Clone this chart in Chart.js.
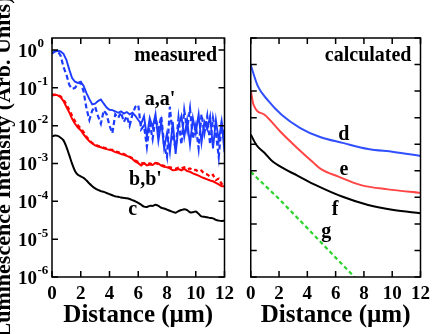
<!DOCTYPE html>
<html>
<head>
<meta charset="utf-8">
<script src="https://cdn.jsdelivr.net/npm/chart.js@4"></script>
<style>
	body { margin: 0; background: #fff; }
	canvas { position: absolute; top: 0; }
	#measuredChart { left: 0; }
	#calculatedChart { left: 240px; }
</style>
</head>
<body>
<canvas id="measuredChart" width="240" height="334"></canvas>
<canvas id="calculatedChart" width="196" height="334"></canvas>
<script>
// Distance (um) for the measured profiles
const measuredX = [
	0, 0.2, 0.4, 0.6, 0.8, 1.0, 1.2, 1.4, 1.6, 1.8,
	2.0, 2.2, 2.4, 2.6, 2.8, 3.0, 3.2, 3.4, 3.6, 3.8,
	4.0, 4.2, 4.4, 4.6, 4.8, 5.0, 5.2, 5.4, 5.6, 5.8,
	6.0, 6.2, 6.4, 6.6, 6.8, 7.0, 7.2, 7.4, 7.6, 7.8,
	8.0, 8.2, 8.4, 8.6, 8.8, 9.0, 9.2, 9.4, 9.6, 9.8,
	10.0, 10.2, 10.4, 10.6, 10.8, 11.0, 11.2, 11.4, 11.6, 11.8,
	12.0,
];

// log10 of the intensity
const aLog = [
	-0.08, -0.04, -0.02, -0.04, -0.10, -0.26, -0.52, -0.74, -0.84, -0.87,
	-0.84, -0.95, -1.14, -1.30, -1.44, -1.42, -1.35, -1.31, -1.42, -1.52,
	-1.58, -1.59, -1.62, -1.66, -1.62, -1.68, -1.64, -1.70, -1.66, -1.74,
	-1.85, -1.95, -1.75, -2.30, -1.80, -2.05, -1.70, -2.40, -1.90, -2.60,
	-2.20, -2.70, -1.90, -2.75, -2.00, -1.75, -2.30, -1.85, -2.50, -1.80,
	-2.20, -1.70, -2.45, -1.90, -2.10, -1.75, -2.60, -1.85, -2.40, -1.90,
	-2.70,
];
const aPrimeLog = [
	-0.10, -0.03, -0.04, -0.15, -0.45, -0.65, -0.92, -1.03, -1.00, -0.90,
	-0.86, -1.10, -1.55, -1.85, -1.60, -1.50, -1.75, -1.95, -1.60, -1.70,
	-2.00, -2.20, -1.70, -1.80, -1.65, -1.90, -1.75, -2.00, -1.70, -1.50,
	-1.45, -2.10, -2.00, -2.56, -1.95, -2.35, -1.80, -2.10, -1.75, -2.50,
	-2.83, -1.50, -2.30, -2.60, -1.80, -2.50, -1.60, -2.10, -1.55, -2.35,
	-2.00, -2.60, -1.70, -2.20, -1.75, -2.50, -1.80, -2.20, -2.83, -1.95,
	-2.30,
];
const bLog = [
	-1.18, -1.18, -1.20, -1.25, -1.35, -1.50, -1.65, -1.82, -1.95, -2.05,
	-2.12, -2.23, -2.33, -2.41, -2.47, -2.52, -2.55, -2.57, -2.60, -2.62,
	-2.64, -2.66, -2.70, -2.72, -2.75, -2.77, -2.80, -2.83, -2.88, -2.95,
	-2.99, -3.05, -2.99, -3.05, -3.03, -3.04, -2.98, -3.00, -3.06, -3.09,
	-3.10, -3.13, -3.18, -3.17, -3.15, -3.18, -3.14, -3.20, -3.22, -3.26,
	-3.29, -3.32, -3.36, -3.39, -3.42, -3.45, -3.47, -3.51, -3.55, -3.60,
	-3.60,
];
const bPrimeLog = [
	-1.20, -1.19, -1.19, -1.23, -1.31, -1.44, -1.58, -1.74, -1.88, -1.99,
	-2.07, -2.17, -2.29, -2.39, -2.46, -2.50, -2.53, -2.55, -2.58, -2.60,
	-2.63, -2.64, -2.68, -2.70, -2.73, -2.75, -2.79, -2.82, -2.86, -2.92,
	-2.96, -2.98, -3.00, -3.02, -3.00, -3.02, -2.99, -3.02, -3.04, -3.06,
	-3.08, -3.10, -3.12, -3.14, -3.11, -3.13, -3.10, -3.15, -3.13, -3.18,
	-3.17, -3.22, -3.19, -3.27, -3.29, -3.35, -3.30, -3.44, -3.40, -3.54,
	-3.50,
];
const cLog = [
	-2.29, -2.26, -2.27, -2.32, -2.39, -2.56, -2.78, -3.01, -3.20, -3.30,
	-3.34, -3.38, -3.45, -3.53, -3.60, -3.66, -3.70, -3.73, -3.75, -3.78,
	-3.81, -3.84, -3.87, -3.88, -3.90, -3.91, -3.92, -3.94, -3.97, -4.00,
	-4.04, -4.09, -4.14, -4.15, -4.12, -4.12, -4.09, -4.12, -4.17, -4.19,
	-4.22, -4.25, -4.28, -4.30, -4.26, -4.23, -4.21, -4.23, -4.29, -4.29,
	-4.27, -4.33, -4.40, -4.41, -4.42, -4.44, -4.45, -4.49, -4.51, -4.52,
	-4.51,
];

// calculated profiles: distance and log10 intensity
const dX = [ 0, 0.5, 1.2, 2.2, 3.5, 4.9, 6.5, 8.3, 10.1, 12 ];
const dLog = [ -1.02, -1.81, -2.34, -2.90, -3.39, -3.73, -3.95, -4.18, -4.29, -4.44 ];
const eX = [ 0, 0.2, 1.0, 2.1, 3.3, 4.4, 5.0, 6.2, 7.8, 9.7, 12 ];
const eLog = [ -1.98, -2.52, -2.90, -3.53, -4.15, -4.68, -4.95, -5.22, -5.54, -5.70, -5.83 ];
const fX = [ 0, 0.4, 1.0, 1.45, 2.35, 3.3, 4.6, 6.5, 8.3, 10.1, 12 ];
const fLog = [ -3.63, -4.03, -4.34, -4.60, -4.92, -5.18, -5.54, -5.98, -6.29, -6.48, -6.60 ];
const gX = [ 0, 2, 4, 6, 7.4 ];
const gLog = [ -5.04, -6.06, -7.16, -8.27, -9.04 ];

// tick values
const measuredTicks = [ 1, 1e-1, 1e-2, 1e-3, 1e-4, 1e-5, 1e-6 ];
const calculatedTicks = [ 1, 1e-1, 1e-2, 1e-3, 1e-4, 1e-5, 1e-6, 1e-7, 1e-8, 1e-9 ];

const SERIF = '"Liberation Serif", "Times New Roman", serif';
Chart.defaults.font.family = SERIF;
Chart.defaults.font.weight = 'bold';
Chart.defaults.color = '#000';

function points( xs, logs ) {
	return xs.map( ( x, i ) => ( { x, y: Math.pow( 10, logs[ i ] ) } ) );
}

// frame with inward ticks, panel labels, superscript tick labels
const framePlugin = {
	id: 'frame',
	afterDatasetsDraw( chart, args, opts ) {
		const { ctx, chartArea: a } = chart;
		const x = chart.scales.x;
		const y = chart.scales.y;
		ctx.save();
		ctx.strokeStyle = '#000';
		ctx.lineWidth = 1.5;
		ctx.strokeRect( a.left, a.top, a.right - a.left, a.bottom - a.top );
		ctx.beginPath();
		x.ticks.forEach( ( t ) => {
			const px = x.getPixelForValue( t.value );
			ctx.moveTo( px, a.bottom );
			ctx.lineTo( px, a.bottom - 6 );
			ctx.moveTo( px, a.top );
			ctx.lineTo( px, a.top + 6 );
		} );
		y.ticks.forEach( ( t ) => {
			const py = y.getPixelForValue( t.value );
			ctx.moveTo( a.left, py );
			ctx.lineTo( a.left + 6, py );
			ctx.moveTo( a.right, py );
			ctx.lineTo( a.right - 6, py );
		} );
		ctx.stroke();

		ctx.fillStyle = '#000';
		ctx.font = 'bold 20px ' + SERIF;
		ctx.textAlign = 'center';
		ctx.textBaseline = 'alphabetic';
		( opts.labels || [] ).forEach( ( l ) => {
			ctx.fillText( l.text, x.getPixelForValue( l.x ), y.getPixelForValue( l.y ) );
		} );

		if ( opts.powers ) {
			y.ticks.forEach( ( t ) => {
				const py = y.getPixelForValue( t.value );
				const exp = Math.round( Math.log10( t.value ) );
				ctx.textBaseline = 'middle';
				ctx.textAlign = 'right';
				ctx.font = 'bold 19px ' + SERIF;
				ctx.fillText( '10', a.left - 15, py + 2 );
				ctx.textAlign = 'left';
				ctx.font = 'bold 13px ' + SERIF;
				ctx.fillText( exp === 0 ? '0' : '-' + Math.abs( exp ), a.left - 14.5, py - 6 );
			} );
		}

		if ( opts.yTitle ) {
			ctx.translate( 9.5, 167 );
			ctx.rotate( -Math.PI / 2 );
			ctx.textAlign = 'center';
			ctx.textBaseline = 'alphabetic';
			ctx.font = 'bold 22px ' + SERIF;
			ctx.fillText( opts.yTitle, 0, 0 );
		}
		ctx.restore();
	},
};

function xScale() {
	return {
		type: 'linear',
		min: 0,
		max: 12,
		grid: { display: false, drawTicks: false },
		border: { display: false },
		ticks: {
			stepSize: 2,
			padding: 6,
			maxRotation: 0,
			color: '#000',
			font: { size: 19, weight: 'bold' },
		},
		title: {
			display: true,
			text: 'Distance (µm)',
			color: '#000',
			font: { size: 25, weight: 'bold' },
			padding: { top: 0, bottom: 3 },
		},
		afterFit( scale ) {
			scale.height = 57;
		},
	};
}

function line( data, color, width, dash, tension ) {
	return {
		data,
		borderColor: color,
		borderWidth: width,
		borderDash: dash || [],
		pointRadius: 0,
		fill: false,
		tension: tension || 0,
	};
}

// Measured panel
new Chart( document.getElementById( 'measuredChart' ), {
	type: 'line',
	data: {
		datasets: [
			line( points( measuredX, cLog ), '#000000', 2, null, 0.3 ),
			line( points( measuredX, bPrimeLog ), '#ff0000', 2.2, [ 4, 3 ] ),
			line( points( measuredX, bLog ), '#ff0000', 2 ),
			line( points( measuredX, aPrimeLog ), '#1e3cff', 2.2, [ 5, 3 ] ),
			line( points( measuredX, aLog ), '#1e3cff', 1.9 ),
		],
	},
	options: {
		responsive: false,
		animation: false,
		layout: { padding: { left: 0, right: 13, top: 38, bottom: 0 } },
		plugins: {
			legend: { display: false },
			tooltip: { enabled: false },
			frame: {
				powers: true,
				yTitle: 'Luminescence Intensity (Arb. Units)',
				labels: [
					{ text: 'measured', x: 8.6, y: 0.5 },
					{ text: "a,a'", x: 7.52, y: 0.0352 },
					{ text: "b,b'", x: 6.5, y: 2.7e-4 },
					{ text: 'c', x: 5.62, y: 4.4e-5 },
				],
			},
		},
		scales: {
			x: xScale(),
			y: {
				type: 'logarithmic',
				min: 1e-6,
				max: 2.07,
				grid: { display: false, drawTicks: false },
				border: { display: false },
				ticks: { display: false },
				afterBuildTicks( scale ) {
					scale.ticks = measuredTicks.map( ( v ) => ( { value: v } ) );
				},
				afterFit( scale ) {
					scale.width = 52;
				},
			},
		},
	},
	plugins: [ framePlugin ],
} );

// Calculated panel
const smooth = { cubicInterpolationMode: 'monotone' };
new Chart( document.getElementById( 'calculatedChart' ), {
	type: 'line',
	data: {
		datasets: [
			line( points( gX, gLog ), '#2ad42a', 2.2, [ 4, 3 ] ),
			Object.assign( line( points( fX, fLog ), '#000000', 2 ), smooth ),
			Object.assign( line( points( eX, eLog ), '#ff4545', 2 ), smooth ),
			Object.assign( line( points( dX, dLog ), '#3050ff', 2 ), smooth ),
		],
	},
	options: {
		responsive: false,
		animation: false,
		layout: { padding: { left: 0, right: 12, top: 38, bottom: 0 } },
		plugins: {
			legend: { display: false },
			tooltip: { enabled: false },
			frame: {
				labels: [
					{ text: 'calculated', x: 8.3, y: 0.136 },
					{ text: 'd', x: 6.58, y: 1.45e-4 },
					{ text: 'e', x: 6.58, y: 6.9e-6 },
					{ text: 'f', x: 5.97, y: 2.1e-7 },
					{ text: 'g', x: 5.33, y: 3.2e-8 },
				],
			},
		},
		scales: {
			x: xScale(),
			y: {
				type: 'logarithmic',
				min: 1e-9,
				max: 1,
				grid: { display: false, drawTicks: false },
				border: { display: false },
				ticks: { display: false },
				afterBuildTicks( scale ) {
					scale.ticks = calculatedTicks.map( ( v ) => ( { value: v } ) );
				},
				afterFit( scale ) {
					scale.width = 9;
				},
			},
		},
	},
	plugins: [ framePlugin ],
} );
</script>
</body>
</html>
